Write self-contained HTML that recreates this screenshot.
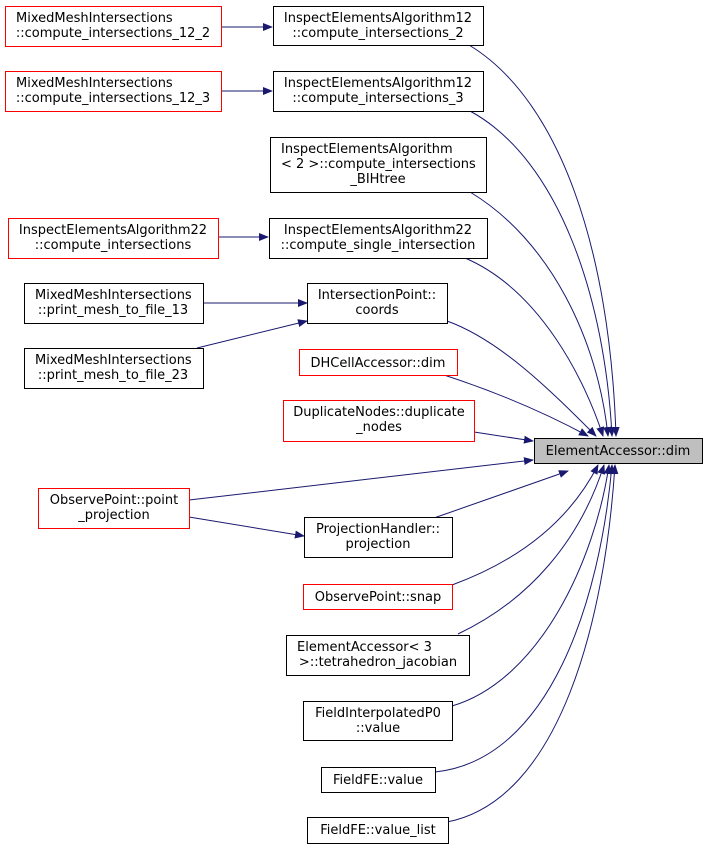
<!DOCTYPE html>
<html><head><meta charset="utf-8"><style>
html,body{margin:0;padding:0;background:#fff;}
svg{display:block;}
text{font-family:"DejaVu Sans","Liberation Sans",sans-serif;font-size:13px;fill:#000;}
</style></head><body>
<svg width="707" height="849" viewBox="0 0 707 849" xmlns="http://www.w3.org/2000/svg">
<defs>
<marker id="a" markerWidth="10" markerHeight="8" refX="9" refY="4" orient="auto" markerUnits="userSpaceOnUse">
<path d="M0,0 L10,4 L0,8 Z" fill="#191970"/>
</marker>
</defs>
<g fill="none" stroke="#191970" stroke-width="1" marker-end="url(#a)">
<path d="M221,27 L272,27"/>
<path d="M221,91 L272,91"/>
<path d="M218,237 L268,237"/>
<path d="M202,303 L307,303"/>
<path d="M197,348 L307,321"/>
<path d="M189,517 L304,536"/>
<path d="M469,45 C560,100 610,250 616,436"/>
<path d="M470,111 C560,160 605,300 612,436"/>
<path d="M470,192 C550,240 598,340 608,436"/>
<path d="M465,258 C540,290 585,380 603,436"/>
<path d="M447,321 C500,340 550,390 596,436"/>
<path d="M444,375 C490,390 540,410 588,436"/>
<path d="M474,432 L533,441"/>
<path d="M189,500 L533,460"/>
<path d="M434,518 L568,471"/>
<path d="M452,585 C520,560 570,520 598,465"/>
<path d="M458,634 C530,600 580,540 604,465"/>
<path d="M452,706 C540,680 595,560 609,465"/>
<path d="M435,772 C550,760 600,600 612,465"/>
<path d="M447,822 C560,800 605,620 615,465"/>
</g>
<g stroke-width="1" fill="#fff">
<rect x="5.5" y="6.5" width="216" height="40" stroke="#ff0000"/>
<rect x="273.5" y="6.5" width="210" height="39" stroke="#000"/>
<rect x="5.5" y="71.5" width="216" height="40" stroke="#ff0000"/>
<rect x="273.5" y="71.5" width="210" height="40" stroke="#000"/>
<rect x="270.5" y="137.5" width="216" height="55" stroke="#000"/>
<rect x="8.5" y="218.5" width="210" height="40" stroke="#ff0000"/>
<rect x="269.5" y="218.5" width="218" height="40" stroke="#000"/>
<rect x="24.5" y="283.5" width="179" height="40" stroke="#000"/>
<rect x="307.5" y="283.5" width="140" height="40" stroke="#000"/>
<rect x="24.5" y="348.5" width="179" height="40" stroke="#000"/>
<rect x="299.5" y="349.5" width="158" height="26" stroke="#ff0000"/>
<rect x="283.5" y="400.5" width="191" height="41" stroke="#ff0000"/>
<rect x="534.5" y="438.5" width="168" height="25" stroke="#000" fill="#bfbfbf"/>
<rect x="38.5" y="488.5" width="151" height="40" stroke="#ff0000"/>
<rect x="304.5" y="517.5" width="148" height="40" stroke="#000"/>
<rect x="303.5" y="584.5" width="149" height="25" stroke="#ff0000"/>
<rect x="286.5" y="635.5" width="183" height="40" stroke="#000"/>
<rect x="303.5" y="701.5" width="149" height="39" stroke="#000"/>
<rect x="321.5" y="767.5" width="114" height="25" stroke="#000"/>
<rect x="307.5" y="817.5" width="141" height="26" stroke="#000"/>
</g>
<g>
<text x="16" y="22">MixedMeshIntersections</text>
<text x="113" y="37" text-anchor="middle">::compute_intersections_12_2</text>
<text x="378" y="22" text-anchor="middle">InspectElementsAlgorithm12</text>
<text x="378" y="37" text-anchor="middle">::compute_intersections_2</text>
<text x="16" y="87">MixedMeshIntersections</text>
<text x="113" y="102" text-anchor="middle">::compute_intersections_12_3</text>
<text x="378" y="87" text-anchor="middle">InspectElementsAlgorithm12</text>
<text x="378" y="102" text-anchor="middle">::compute_intersections_3</text>
<text x="281" y="153">InspectElementsAlgorithm</text>
<text x="281" y="168">&lt; 2 &gt;::compute_intersections</text>
<text x="378" y="183" text-anchor="middle">_BIHtree</text>
<text x="113" y="234" text-anchor="middle">InspectElementsAlgorithm22</text>
<text x="113" y="249" text-anchor="middle">::compute_intersections</text>
<text x="378" y="234" text-anchor="middle">InspectElementsAlgorithm22</text>
<text x="378" y="249" text-anchor="middle">::compute_single_intersection</text>
<text x="35" y="299">MixedMeshIntersections</text>
<text x="113" y="314" text-anchor="middle">::print_mesh_to_file_13</text>
<text x="377" y="299" text-anchor="middle">IntersectionPoint::</text>
<text x="377" y="314" text-anchor="middle">coords</text>
<text x="35" y="364">MixedMeshIntersections</text>
<text x="113" y="379" text-anchor="middle">::print_mesh_to_file_23</text>
<text x="378" y="367" text-anchor="middle">DHCellAccessor::dim</text>
<text x="379" y="416" text-anchor="middle">DuplicateNodes::duplicate</text>
<text x="379" y="431" text-anchor="middle">_nodes</text>
<text x="618" y="455" text-anchor="middle">ElementAccessor::dim</text>
<text x="114" y="504" text-anchor="middle">ObservePoint::point</text>
<text x="114" y="519" text-anchor="middle">_projection</text>
<text x="378" y="533" text-anchor="middle">ProjectionHandler::</text>
<text x="378" y="548" text-anchor="middle">projection</text>
<text x="378" y="601" text-anchor="middle">ObservePoint::snap</text>
<text x="297" y="651">ElementAccessor&lt; 3</text>
<text x="378" y="666" text-anchor="middle">&gt;::tetrahedron_jacobian</text>
<text x="378" y="717" text-anchor="middle">FieldInterpolatedP0</text>
<text x="378" y="732" text-anchor="middle">::value</text>
<text x="378" y="784" text-anchor="middle">FieldFE::value</text>
<text x="378" y="834" text-anchor="middle">FieldFE::value_list</text>
</g>
</svg>
</body></html>
